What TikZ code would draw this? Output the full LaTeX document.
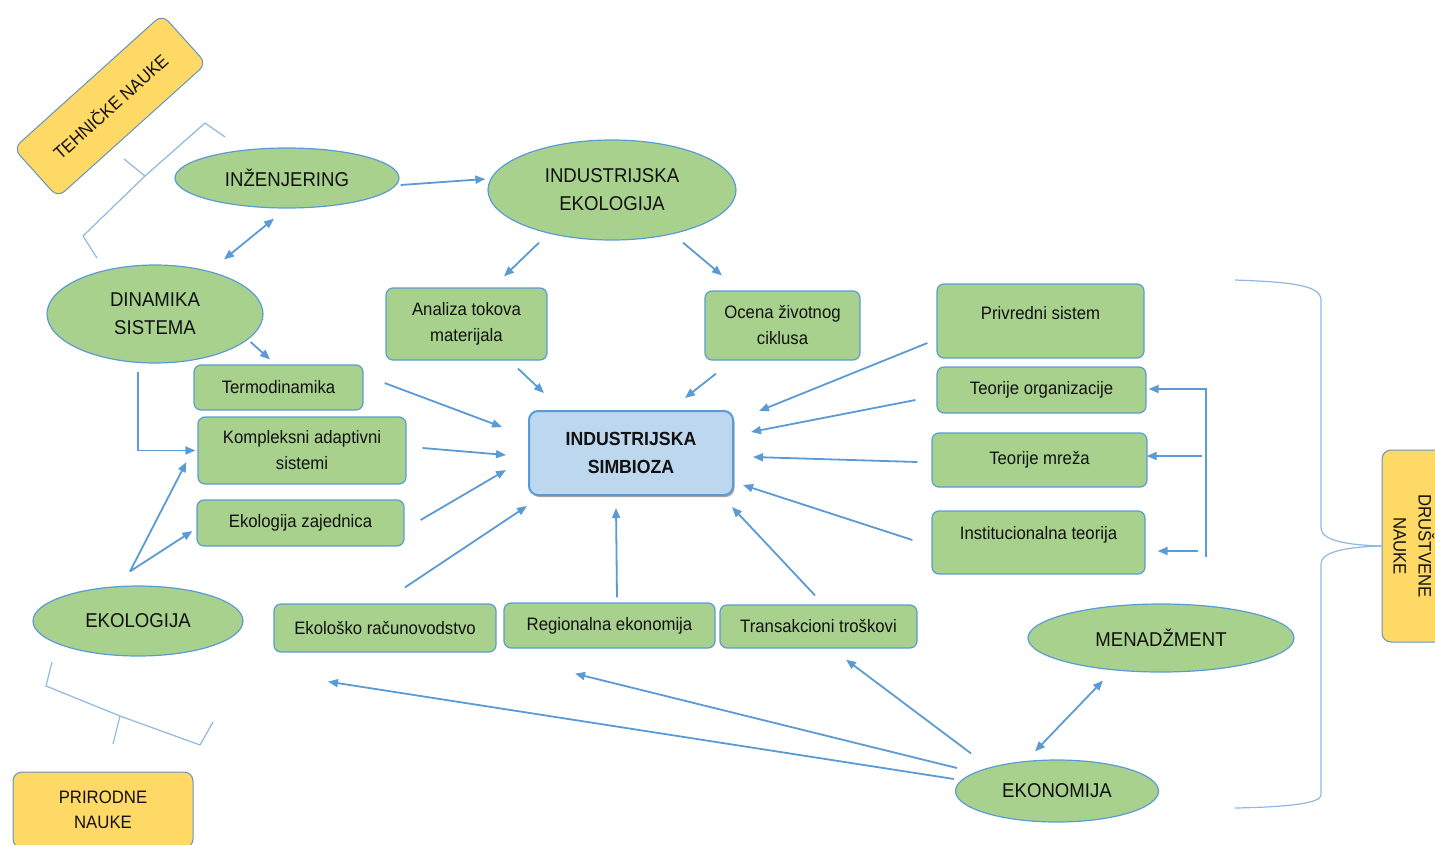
\documentclass[tikz,border=0pt]{standalone}
\usepackage{fontspec}
\setmainfont{Liberation Sans}[FakeStretch=0.93]
\usetikzlibrary{shapes.geometric,arrows.meta,calc,shadows}
\definecolor{leaf}{HTML}{A9D18E}
\definecolor{edge}{HTML}{5B9BD5}
\definecolor{sky}{HTML}{BDD7EE}
\definecolor{sand}{HTML}{FFD966}
\definecolor{bracecol}{HTML}{8FB8E0}
\definecolor{ink}{HTML}{111111}

\begin{document}
\begin{tikzpicture}[x=1pt,y=-1pt,
  every node/.style={text=ink},
  dims/.style 2 args={minimum width=#1pt, minimum height=#2pt},
  oval/.style={ellipse, draw=edge, line width=1.2pt, fill=leaf, inner sep=0pt,
    align=center, font=\fontsize{20}{28}\selectfont},
  topic/.style={rectangle, rounded corners=7pt, draw=edge, line width=1.2pt,
    fill=leaf, inner sep=0pt, align=center, font=\fontsize{18}{26}\selectfont},
  field/.style={rectangle, rounded corners=9pt, draw=edge!70!gray, line width=1pt,
    fill=sand, inner sep=0pt, align=center, font=\fontsize{18}{25}\selectfont},
  core/.style={rectangle, rounded corners=9pt, draw=edge, line width=2pt, fill=sky,
    inner sep=0pt, align=center, font=\fontsize{19}{28}\selectfont\bfseries,
    drop shadow={shadow xshift=1.5pt, shadow yshift=-2pt, fill=black, opacity=0.35}},
  arr/.style={draw=edge, line width=1.8pt, -{Triangle[length=10pt,width=8pt]}},
  biarr/.style={draw=edge, line width=1.8pt,
    {Triangle[length=10pt,width=8pt]}-{Triangle[length=10pt,width=8pt]}},
  bracket/.style={draw=bracecol, line width=1.2pt, line join=round},
]
\useasboundingbox (0,0) rectangle (1435,844);
\clip (0,0) rectangle (1435,844);

% fields of science
\node[field, rotate=42, dims={200}{66}] (tehn) at (110,106) {TEHNIČKE NAUKE};
\node[field, dims={180}{76}] (prir) at (103,810) {PRIRODNE\\NAUKE};
\node[field, rotate=-90, dims={192}{64}] (drus) at (1414,546) {DRUŠTVENE\\NAUKE};

% disciplines
\node[oval, dims={224}{60}] (inz) at (287,178) {INŽENJERING};
\node[oval, dims={248}{100}] (indek) at (612,190) {INDUSTRIJSKA\\EKOLOGIJA};
\node[oval, dims={216}{98}] (din) at (155,314) {DINAMIKA\\SISTEMA};
\node[oval, dims={210}{70}] (ekol) at (138,621) {EKOLOGIJA};
\node[oval, dims={266}{68}] (men) at (1161,638) {MENADŽMENT};
\node[oval, dims={203}{62}] (ekon) at (1057,791) {EKONOMIJA};

% topics
\node[topic, dims={161}{72}] (analiza) at (466.5,324) {Analiza tokova\\materijala};
\node[topic, dims={155}{69}] (ocena) at (782.5,325.5) {Ocena životnog\\ciklusa};
\node[topic, dims={207}{74}, text depth=16pt] (privr) at (1040.5,321) {Privredni sistem};
\node[topic, dims={209}{46}] (teorg) at (1041.5,390) {Teorije organizacije};
\node[topic, dims={215}{54}] (teomr) at (1039.5,460) {Teorije mreža};
\node[topic, dims={213}{63}, text depth=19pt] (inst) at (1038.5,542.5) {Institucionalna teorija};
\node[topic, dims={169}{45}] (termo) at (278.5,387.5) {Termodinamika};
\node[topic, dims={208}{67}] (kompl) at (302,450.5) {Kompleksni adaptivni\\sistemi};
\node[topic, dims={207}{46}] (ekzaj) at (300.5,523) {Ekologija zajednica};
\node[topic, dims={222}{48}] (ekrac) at (385,628) {Ekološko računovodstvo};
\node[topic, dims={211}{45}] (reg) at (609.5,625.5) {Regionalna ekonomija};
\node[topic, dims={197}{43}] (trans) at (818.5,626.5) {Transakcioni troškovi};

% centre
\node[core, dims={204}{84}] (simb) at (631,453) {INDUSTRIJSKA\\SIMBIOZA};

% brackets grouping the disciplines
\draw[bracket] (225,137) -- (205,123) -- (145,176) -- (83,236) -- (97,258);
\draw[bracket] (145,176) -- (124,159);
\draw[bracket] (52,662) -- (46,686) -- (120,716) -- (200,745) -- (213,722);
\draw[bracket] (120,716) -- (113,744);
\draw[bracket] (1235,280) .. controls (1290,282) and (1321,285) .. (1321,300)
  -- (1321,528) .. controls (1321,540) and (1345,545) .. (drus.south);
\draw[bracket] (drus.south) .. controls (1345,547) and (1321,552) .. (1321,564)
  -- (1321,795) .. controls (1321,803) and (1290,807) .. (1235,808);

% upper links
\draw[arr] ([shift={(1,7)}]inz.east) -- ([shift={(-2,-11)}]indek.west);
\draw[biarr] ([shift={(69,-5)}]din.north) -- ([shift={(-13,10)}]inz.south);
\draw[arr] ([shift={(-73,2)}]indek.south) -- ([shift={(37.5,-11)}]analiza.north);
\draw[arr] ([shift={(71,2)}]indek.south) -- ([shift={(-60.5,-15)}]ocena.north);
\draw[arr] ([shift={(-13,28)}]din.east) -- ([shift={(-8.5,-5)}]termo.north);
\draw[arr] ([shift={(-17,8)}]din.south) |- ([shift={(-2,0)}]kompl.west);
\draw[arr] ([shift={(-8,-14)}]ekol.north) -- ([shift={(-11,11.5)}]kompl.west);
\draw[arr] ([shift={(-8,-14)}]ekol.north) -- ([shift={(-4,8)}]ekzaj.west);

% links into the symbiosis
\draw[arr] ([shift={(51.5,8)}]analiza.south) -- ([shift={(16,-17)}]simb.north west);
\draw[arr] ([shift={(-66.5,13)}]ocena.south) -- ([shift={(54,-12)}]simb.north);
\draw[arr] ([shift={(21,-4.5)}]termo.east) -- ([shift={(-26,-26)}]simb.west);
\draw[arr] ([shift={(16,-2.5)}]kompl.east) -- ([shift={(-22,2)}]simb.west);
\draw[arr] ([shift={(16,-3)}]ekzaj.east) -- ([shift={(-22,17)}]simb.west);
\draw[arr] ([shift={(20,-16)}]ekrac.north) -- ([shift={(-1,10)}]simb.south west);
\draw[arr] ([shift={(7.5,-5)}]reg.north) -- ([shift={(-15,12)}]simb.south);
\draw[arr] ([shift={(-3.5,-9)}]trans.north) -- ([shift={(-2,11)}]simb.south east);
\draw[arr] ([shift={(-9,22)}]privr.west) -- ([shift={(25,1)}]simb.north east);
\draw[arr] ([shift={(-21,10)}]teorg.west) -- ([shift={(17,-21)}]simb.east);
\draw[arr] ([shift={(-14,2)}]teomr.west) -- ([shift={(19,4)}]simb.east);
\draw[arr] ([shift={(-19,-2.5)}]inst.west) -- ([shift={(9,32)}]simb.east);

% management feeds the organisational theories
\coordinate (trunk) at ([shift={(45,-46)}]men.north);
\draw[arr] (trunk) |- ([shift={(2,-1)}]teorg.east);
\draw[arr] ($(trunk |- teomr.east)+(-4,-4)$) -- ([shift={(-1,-4)}]teomr.east);
\draw[arr] ($(trunk |- inst.east)+(-8,8.5)$) -- ([shift={(12,8.5)}]inst.east);

% economics
\draw[biarr] ([shift={(-22,-8)}]ekon.north) -- ([shift={(-58,8)}]men.south);
\draw[arr] ([shift={(-86,-6)}]ekon.north) -- ([shift={(27.5,11)}]trans.south);
\draw[arr] ([shift={(2,-23)}]ekon.west) -- ([shift={(-34.5,25)}]reg.south);
\draw[arr] ([shift={(-1,-12)}]ekon.west) -- ([shift={(-57,29)}]ekrac.south);
\end{tikzpicture}
\end{document}
